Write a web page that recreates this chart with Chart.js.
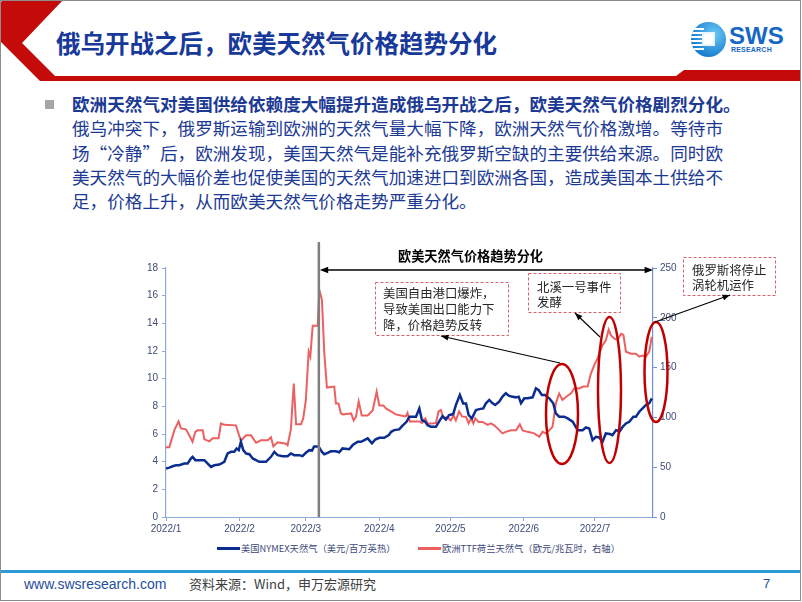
<!DOCTYPE html>
<html lang="zh">
<head>
<meta charset="UTF-8" />
<title>欧美天然气价格趋势分化</title>
<script src="https://cdn.jsdelivr.net/npm/chart.js"></script>
<style>
  body {
    margin: 0;
    width: 802px;
    height: 602px;
    overflow: hidden;
    background: #fff;
    position: relative;
    font-family: "Noto Sans CJK SC", "Noto Sans", sans-serif;
  }
  .abs { position: absolute; white-space: nowrap; }
  #frame {
    position: absolute; left: 0; top: 0; width: 799px; height: 599px;
    border: 1px solid #8c8c8c; pointer-events: none; z-index: 10;
  }
  #title {
    left: 56px; top: 28px; font-size: 24.5px; line-height: 30px;
    font-weight: bold; color: #17399a;
  }
  #logoDisc {
    left: 691px; top: 22px; width: 35px; height: 35px; border-radius: 50%;
    background: radial-gradient(circle at 65% 35%, #6ccaf5, #1a7fd0 70%);
    overflow: hidden;
  }
  #logoDisc .stripes {
    position: absolute; left: 0; top: 6px; width: 13px; height: 23px;
    background: repeating-linear-gradient(to bottom, #fff 0 1.6px, transparent 1.6px 4px);
  }
  #logoDisc .sq {
    position: absolute; left: 11px; top: 10px; width: 13px; height: 14px;
    background: #fff; box-shadow: inset 0 0 0 2px #e8f5fd;
  }
  #sws {
    left: 729px; top: 24px; font-family: "Liberation Sans", Arial, sans-serif;
    font-weight: bold; font-size: 24px; line-height: 24px; color: #1668c4;
  }
  #research {
    left: 731px; top: 46px; font-family: "Liberation Sans", Arial, sans-serif;
    font-weight: bold; font-size: 7px; line-height: 8px; color: #1668c4;
    letter-spacing: 0.2px;
  }
  #bullet { left: 45px; top: 100px; width: 9px; height: 9px; background: #a6a6a6; }
  #body {
    left: 72px; top: 92px; font-size: 17.6px; line-height: 24.3px; color: #1c3a94;
  }
  #body b { font-weight: bold; }
  .lg-sw { position: absolute; height: 3px; top: 547px; }
  .lg-tx {
    position: absolute; top: 541px; font-size: 9.3px; line-height: 14px; color: #3b4a7a;
    white-space: nowrap;
  }
  #footLine { left: 0; top: 570px; width: 801px; height: 3px; background: #2b9bd3; }
  .foot { top: 576px; font-size: 13px; line-height: 16px; }
  #chart { position: absolute; left: 0; top: 0; z-index: 2; }
</style>
</head>
<body>
  <div id="frame"></div>

  <svg class="abs" style="left:0;top:0" width="802" height="90">
    <polygon points="0,3 3,0 63,0 22,43 55,76 676,76 684,70 800,70 800,81 40,81 0,41" fill="#c50a0a" />
  </svg>
  <div id="title" class="abs">俄乌开战之后，欧美天然气价格趋势分化</div>

  <div id="logoDisc" class="abs"><div class="stripes"></div><div class="sq"></div></div>
  <div id="sws" class="abs">SWS</div>
  <div id="research" class="abs">RESEARCH</div>

  <div id="bullet" class="abs"></div>
  <div id="body" class="abs">
    <b>欧洲天然气对美国供给依赖度大幅提升造成俄乌开战之后，欧美天然气价格剧烈分化。</b><br />
    俄乌冲突下，俄罗斯运输到欧洲的天然气量大幅下降，欧洲天然气价格激增。等待市<br />
    场“冷静”后，欧洲发现，美国天然气是能补充俄罗斯空缺的主要供给来源。同时欧<br />
    美天然气的大幅价差也促使美国的天然气加速进口到欧洲各国，造成美国本土供给不<br />
    足，价格上升，从而欧美天然气价格走势严重分化。
  </div>

  <canvas id="chart" width="802" height="602"></canvas>

  <div class="lg-sw" style="left:217px;width:23px;background:#0b2d8f"></div>
  <div class="lg-tx" style="left:241px">美国NYMEX天然气（美元/百万英热）</div>
  <div class="lg-sw" style="left:418px;width:23px;background:#ec6060"></div>
  <div class="lg-tx" style="left:442px">欧洲TTF荷兰天然气（欧元/兆瓦时，右轴）</div>

  <div id="footLine" class="abs"></div>
  <div class="abs foot" style="left:24px;color:#1f4e9c;font-family:'Liberation Sans',Arial,sans-serif;font-size:14px">www.swsresearch.com</div>
  <div class="abs foot" style="left:189px;color:#404040">资料来源：Wind，申万宏源研究</div>
  <div class="abs foot" style="left:763px;color:#1f4e9c;font-family:'Liberation Sans',Arial,sans-serif">7</div>

<script>
  // x values are days since 2022-01-01
  const monthDays = [0, 31, 59, 90, 120, 151, 181];
  const monthLabels = ["2022/1", "2022/2", "2022/3", "2022/4", "2022/5", "2022/6", "2022/7"];

  const nymexDay = [
    0, 1.4, 2.8, 4.2, 5.6, 7.7, 9.1, 10.5, 11.2, 12.4,
    14, 16.2, 17.6, 19, 20.4, 22.5, 24.6, 26, 27.4, 28.8,
    29.8, 30.7, 31.6, 32.6, 33.8, 35.2, 36.6, 38, 39.4, 42.2,
    44.3, 45.7, 47.1, 49.2, 51.3, 52.7, 54.1, 56.2, 57.6, 59,
    60.5, 61.6, 62.5, 64.4, 65.8, 66.8, 68.2, 69.6, 71.7, 73.1,
    74.5, 77.3, 78.8, 80.9, 82.3, 83.7, 85.1, 86.9, 88.3, 90,
    92.1, 94, 95, 96.3, 98.4, 99.6, 101.5, 102.7, 105.5, 106.9,
    108, 109.4, 110.4, 111.8, 113.9, 115.6, 116.7, 118.1, 119.5, 121.2,
    122.3, 124, 125.4, 126.6, 127.7, 129.1, 130.8, 132.2, 133.9, 135,
    136.4, 137.8, 138.9, 140.6, 142, 143.4, 144.8, 146.3, 147.7, 148.8,
    149.8, 151.2, 152.6, 154.7, 156.1, 157.2, 158.6, 160, 161.7, 163.4,
    164.5, 165.9, 168, 169.5, 171.6, 173.7, 175.8, 177.2, 178.6, 180,
    181.4, 182.8, 184.2, 185.6, 187.3, 188.4, 189.9, 191.5, 192.7, 194.1,
    195.5, 197.2, 198.3, 199.7, 201.1, 202.5, 203.9, 205
  ];
  const nymexPrice = [
    3.5, 3.57, 3.67, 3.74, 3.74, 3.86, 3.86, 4.23, 4.35, 4.11,
    4.11, 4.11, 3.86, 3.62, 3.74, 3.79, 3.99, 4.59, 4.71, 4.71,
    4.95, 4.83, 5.43, 4.83, 4.59, 4.54, 4.23, 4.11, 3.99, 3.99,
    4.35, 4.71, 4.47, 4.4, 4.4, 4.59, 4.47, 4.47, 4.4, 4.64,
    4.83, 4.8, 5.1, 5.1, 4.71, 4.54, 4.64, 4.75, 4.75, 4.68,
    4.96, 4.9, 5.2, 5.44, 5.44, 5.56, 5.68, 5.32, 5.6, 5.73,
    5.73, 5.92, 6.16, 6.28, 6.33, 6.57, 6.88, 7.25, 7.25, 7.85,
    7.0, 6.88, 6.64, 6.52, 6.52, 7.0, 7.29, 7.05, 7.37, 7.44,
    8.09, 8.82, 8.21, 8.21, 7.37, 7.13, 7.73, 7.8, 7.85, 8.22,
    8.46, 8.22, 8.1, 8.34, 8.7, 8.95, 8.75, 8.7, 8.65, 8.7,
    8.22, 8.58, 8.58, 8.65, 9.3, 9.18, 8.82, 8.82, 8.58, 8.22,
    7.49, 7.25, 7.25, 7.13, 6.89, 6.28, 6.28, 6.47, 6.4, 5.56,
    5.8, 5.75, 5.44, 6.04, 6.0, 5.92, 6.28, 6.2, 6.52, 6.76,
    6.88, 7.25, 7.25, 7.61, 7.85, 8.1, 8.22, 8.58
  ];

  const ttfDay = [
    0, 1.4, 3.5, 5.3, 6.3, 8.4, 9.8, 11.2, 12.4, 13.3,
    15.5, 16.2, 18.3, 19.7, 22.2, 23.2, 24.6, 29.5, 31.6, 33.8,
    35.9, 38, 40, 42.9, 44.3, 45.3, 47.1, 50.6, 51.3, 52.7,
    53.9, 54.9, 57, 57.9, 59, 60.2, 60.9, 61.9, 64, 64.7,
    65.8, 66.8, 67.9, 71, 71.7, 72.8, 73.8, 74.5, 78.1, 79.2,
    80.2, 81.3, 82.6, 85.1, 87.2, 88.9, 90, 91.7, 92.8, 94.9,
    97, 99.1, 101.2, 101.9, 102.9, 106.9, 108, 109.4, 110.4, 112.5,
    113.9, 115, 116, 117, 118.8, 120.2, 121.3, 122.3, 123.7, 124.9,
    126.6, 127.7, 128.7, 129.7, 130.5, 131.9, 133.6, 135.7, 137.1, 138.5,
    139.9, 142, 143.4, 145.6, 147.7, 149.3, 150.5, 152.6, 155.4, 157.5,
    158.9, 160.3, 161.7, 163.1, 164.5, 165.9, 167.3, 169, 170.8, 172.3,
    174.4, 176.1, 177.9, 179.3, 180.7, 182.1, 183.1, 184.2, 185.6, 186.8,
    187.7, 189.2, 190.6, 192, 193, 194.1, 196.2, 198.3, 199.7, 201.1,
    202.5, 203.9, 205
  ];
  const ttfPrice = [
    70, 70, 87, 96, 89, 88, 82, 75.5, 85.5, 87,
    87, 78, 76, 79, 79, 94, 92.5, 92, 76.5, 82,
    82, 74.5, 77, 77, 80, 71, 75, 73.5, 72, 88,
    134, 93, 93, 99, 117, 166, 161, 192, 192, 228,
    218, 164, 130, 131, 114, 114, 104, 103, 104, 97,
    101, 116, 102, 102, 107, 126, 112, 112, 109, 106,
    103, 102, 101, 104.5, 96, 96, 94.5, 99, 94, 94,
    94.5, 106, 107.5, 99.5, 100, 97, 102, 97, 106, 101,
    100.5, 94, 99, 94, 99, 95.5, 95.5, 92.5, 94, 92,
    89, 84, 85.5, 87, 87, 93, 87, 85.5, 84, 80.5,
    85.5, 84, 87, 90.5, 114, 124, 117.5, 121, 124, 129,
    129, 131, 131, 144, 152.5, 159, 166, 172.5, 177.5, 188,
    182.5, 179, 178, 184, 183, 166, 164, 164, 161, 162,
    161, 166, 181
  ];

  const warDay = 64.5; // 分化起点（竖线）
  const tickColor = "#3f4c78";
  const axisColor = "#8eaadb";

  // annotation layout on the page (canvas covers the whole page)
  const ellipses = [
    { cx: 562, cy: 414, rx: 16, ry: 50 },
    { cx: 609.5, cy: 390, rx: 11.5, ry: 73 },
    { cx: 656, cy: 372, rx: 11.5, ry: 50 },
  ];
  const boxes = [
    { x: 375, y: 282, w: 133, h: 53, tx: 383, lines: ["美国自由港口爆炸，", "导致美国出口能力下", "降，价格趋势反转"], ly: [293, 309, 325] },
    { x: 528, y: 273, w: 92, h: 39, tx: 537, lines: ["北溪一号事件", "发酵"], ly: [287, 302] },
    { x: 683, y: 257, w: 92, h: 38, tx: 692, lines: ["俄罗斯将停止", "涡轮机运作"], ly: [270, 285] },
  ];
  const pointers = [
    [560, 363, 441, 336],
    [600, 337, 575, 313],
    [655, 322, 730, 295],
  ];

  function arrowHead(ctx, x1, y1, x2, y2, size) {
    const a = Math.atan2(y2 - y1, x2 - x1);
    ctx.beginPath();
    ctx.moveTo(x2, y2);
    ctx.lineTo(x2 - size * Math.cos(a - 0.38), y2 - size * Math.sin(a - 0.38));
    ctx.lineTo(x2 - size * Math.cos(a + 0.38), y2 - size * Math.sin(a + 0.38));
    ctx.closePath();
    ctx.fill();
  }

  const annotate = {
    id: "annotate",
    afterDatasetsDraw(chart) {
      const { ctx, chartArea, scales } = chart;
      const xs = scales.x.getPixelForValue(warDay);
      ctx.save();

      // vertical marker
      ctx.strokeStyle = "#7f7f7f";
      ctx.lineWidth = 2.5;
      ctx.beginPath();
      ctx.moveTo(xs, 242);
      ctx.lineTo(xs, chartArea.bottom);
      ctx.stroke();

      // double arrow + heading
      ctx.strokeStyle = "#000";
      ctx.fillStyle = "#000";
      ctx.lineWidth = 1.3;
      ctx.beginPath();
      ctx.moveTo(xs + 4, 270);
      ctx.lineTo(chartArea.right - 4, 270);
      ctx.stroke();
      arrowHead(ctx, xs + 20, 270, xs + 1, 270, 9);
      arrowHead(ctx, chartArea.right - 20, 270, chartArea.right, 270, 9);
      ctx.font = "bold 13.2px 'Noto Sans CJK SC'";
      ctx.textAlign = "center";
      ctx.textBaseline = "middle";
      ctx.fillText("欧美天然气价格趋势分化", 470.5, 256);

      // ellipses
      ctx.strokeStyle = "#c00000";
      ctx.lineWidth = 2.5;
      ellipses.forEach((e) => {
        ctx.beginPath();
        ctx.ellipse(e.cx, e.cy, e.rx, e.ry, 0, 0, Math.PI * 2);
        ctx.stroke();
      });

      // text boxes
      ctx.textAlign = "left";
      ctx.font = "12.4px 'Noto Sans CJK SC'";
      boxes.forEach((b) => {
        ctx.fillStyle = "#fff";
        ctx.fillRect(b.x, b.y, b.w, b.h);
        ctx.setLineDash([3, 2]);
        ctx.strokeStyle = "#d2636b";
        ctx.lineWidth = 1;
        ctx.strokeRect(b.x + 0.5, b.y + 0.5, b.w, b.h);
        ctx.setLineDash([]);
        ctx.fillStyle = "#262626";
        b.lines.forEach((t, i) => ctx.fillText(t, b.tx, b.ly[i]));
      });

      // pointer arrows
      ctx.strokeStyle = "#000";
      ctx.fillStyle = "#000";
      ctx.lineWidth = 1.1;
      pointers.forEach(([x1, y1, x2, y2]) => {
        ctx.beginPath();
        ctx.moveTo(x1, y1);
        ctx.lineTo(x2, y2);
        ctx.stroke();
        arrowHead(ctx, x1, y1, x2, y2, 8);
      });
      ctx.restore();
    },
  };

  const tickFont = { family: "'Liberation Sans', Arial, sans-serif", size: 10 };

  new Chart(document.getElementById("chart"), {
    type: "line",
    data: {
      datasets: [
        {
          label: "美国NYMEX天然气（美元/百万英热）",
          data: nymexDay.map((d, i) => ({ x: d, y: nymexPrice[i] })),
          borderColor: "#0b2d8f",
          backgroundColor: "#0b2d8f",
          borderWidth: 2.5,
          pointRadius: 0,
          yAxisID: "y",
          order: 0,
        },
        {
          label: "欧洲TTF荷兰天然气（欧元/兆瓦时，右轴）",
          data: ttfDay.map((d, i) => ({ x: d, y: ttfPrice[i] })),
          borderColor: "#ec6060",
          backgroundColor: "#ec6060",
          borderWidth: 2,
          pointRadius: 0,
          yAxisID: "y2",
          order: 1,
        },
      ],
    },
    options: {
      responsive: false,
      animation: false,
      events: [],
      layout: { padding: { left: 126, right: 109, top: 268, bottom: 65 } },
      plugins: { legend: { display: false }, tooltip: { enabled: false } },
      scales: {
        x: {
          type: "linear",
          min: 0,
          max: 205.5,
          afterBuildTicks: (s) => {
            s.ticks = monthDays.map((v) => ({ value: v }));
          },
          afterFit: (s) => {
            s.height = 20;
          },
          ticks: {
            autoSkip: false,
            maxRotation: 0,
            padding: 2,
            color: tickColor,
            font: tickFont,
            callback: (v) => monthLabels[monthDays.indexOf(v)],
          },
          grid: { drawOnChartArea: false, tickLength: 4, color: axisColor },
          border: { color: axisColor, width: 1 },
        },
        y: {
          position: "left",
          min: 0,
          max: 18,
          afterFit: (s) => {
            s.width = 40;
          },
          ticks: { stepSize: 2, padding: 4, color: tickColor, font: tickFont },
          grid: { drawOnChartArea: false, tickLength: 4, color: axisColor },
          border: { color: axisColor, width: 1.2 },
        },
        y2: {
          position: "right",
          min: 0,
          max: 250,
          afterFit: (s) => {
            s.width = 40;
          },
          ticks: { stepSize: 50, padding: 3, color: tickColor, font: tickFont },
          grid: { drawOnChartArea: false, tickLength: 4, color: "#6f8fd6" },
          border: { color: "#6f8fd6", width: 1.2 },
        },
      },
    },
    plugins: [annotate],
  });
</script>
</body>
</html>
